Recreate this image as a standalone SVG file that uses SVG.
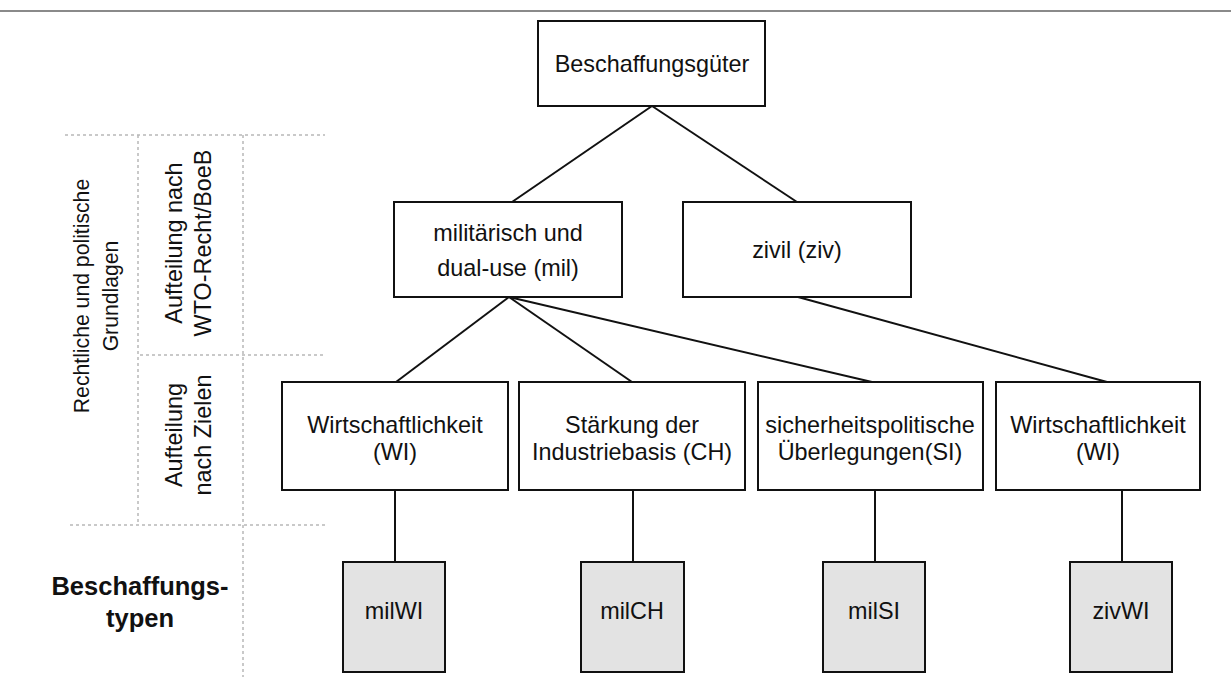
<svg xmlns="http://www.w3.org/2000/svg" width="1231" height="677" viewBox="0 0 1231 677">
<style>
.box{fill:#fff;stroke:#111;stroke-width:2}
.gbox{fill:#e3e3e3;stroke:#111;stroke-width:2}
.t{font-family:"Liberation Sans",Arial,sans-serif;font-size:23.4px;fill:#111;text-anchor:middle}
.ts{font-family:"Liberation Sans",Arial,sans-serif;font-size:21.2px;fill:#111;text-anchor:middle}
.tb{font-family:"Liberation Sans",Arial,sans-serif;font-size:25.5px;font-weight:bold;fill:#111;text-anchor:middle}
.con line{stroke:#111;stroke-width:2}
.dot line{stroke:#b8b8b8;stroke-width:1.5;stroke-dasharray:3 3}
</style>
<line x1="0" y1="11" x2="1231" y2="11" stroke="#8a8a8a" stroke-width="2"/>
<g class="dot">
<line x1="65" y1="135" x2="325" y2="135"/>
<line x1="138" y1="135" x2="138" y2="525"/>
<line x1="243" y1="135" x2="243" y2="677"/>
<line x1="140" y1="355" x2="325" y2="355"/>
<line x1="70" y1="525" x2="325" y2="525"/>
</g>
<g id="side-labels">
<text class="ts" transform="translate(89,296) rotate(-90)">Rechtliche und politische</text>
<text class="ts" transform="translate(118,296) rotate(-90)">Grundlagen</text>
<text class="t" transform="translate(182,243) rotate(-90)">Aufteilung nach</text>
<text class="t" transform="translate(211,243) rotate(-90)">WTO-Recht/BoeB</text>
<text class="t" transform="translate(182,435) rotate(-90)">Aufteilung</text>
<text class="t" transform="translate(211,435) rotate(-90)">nach Zielen</text>
<text class="tb" x="140" y="595">Beschaffungs-</text>
<text class="tb" x="140" y="627">typen</text>
</g>
<g class="con" id="connectors">
<line x1="652" y1="106" x2="512" y2="202"/>
<line x1="652" y1="106" x2="797" y2="202"/>
<line x1="509" y1="297" x2="396" y2="382"/>
<line x1="509" y1="297" x2="632" y2="382"/>
<line x1="509" y1="297" x2="872" y2="382"/>
<line x1="798" y1="297" x2="1107" y2="382"/>
<line x1="395" y1="490" x2="395" y2="562"/>
<line x1="633" y1="490" x2="633" y2="562"/>
<line x1="875" y1="490" x2="875" y2="562"/>
<line x1="1122" y1="490" x2="1122" y2="562"/>
</g>
<g id="n-root"><rect class="box" x="538" y="21" width="227" height="85"/><text class="t" x="652" y="72">Beschaffungsgüter</text></g>
<g id="n-mil"><rect class="box" x="394" y="202" width="228" height="95"/><text class="t" x="508" y="241">militärisch und</text><text class="t" x="508" y="276">dual-use (mil)</text></g>
<g id="n-ziv"><rect class="box" x="683" y="202" width="228" height="95"/><text class="t" x="797" y="258">zivil (ziv)</text></g>
<g id="n-wi1"><rect class="box" x="282" y="382" width="226" height="108"/><text class="t" x="395" y="433">Wirtschaftlichkeit</text><text class="t" x="395" y="460">(WI)</text></g>
<g id="n-ch"><rect class="box" x="519" y="382" width="226" height="108"/><text class="t" x="632" y="433">Stärkung der</text><text class="t" x="632" y="460">Industriebasis (CH)</text></g>
<g id="n-si"><rect class="box" x="758" y="382" width="225" height="108"/><text class="t" x="870" y="433">sicherheitspolitische</text><text class="t" x="870" y="460">Überlegungen(SI)</text></g>
<g id="n-wi2"><rect class="box" x="996" y="382" width="204" height="108"/><text class="t" x="1098" y="433">Wirtschaftlichkeit</text><text class="t" x="1098" y="460">(WI)</text></g>
<g id="n-milWI"><rect class="gbox" x="343" y="562" width="102" height="110"/><text class="t" x="394" y="619">milWI</text></g>
<g id="n-milCH"><rect class="gbox" x="581" y="562" width="103" height="110"/><text class="t" x="632" y="619">milCH</text></g>
<g id="n-milSI"><rect class="gbox" x="823" y="562" width="102" height="110"/><text class="t" x="874" y="619">milSI</text></g>
<g id="n-zivWI"><rect class="gbox" x="1070" y="562" width="102" height="110"/><text class="t" x="1121" y="619">zivWI</text></g>
</svg>
